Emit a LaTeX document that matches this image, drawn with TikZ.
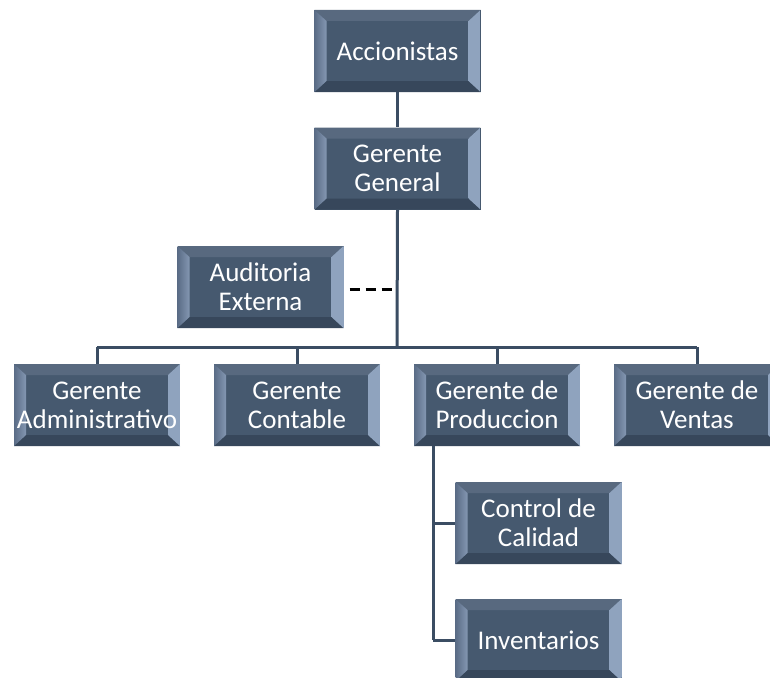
\documentclass[tikz,border=0pt]{standalone}
\usepackage{fontspec}
\setmainfont{Carlito}
\usetikzlibrary{calc}
\definecolor{face}{HTML}{46596F}
\definecolor{facetop}{HTML}{58697F}
\definecolor{facebot}{HTML}{37475B}
\definecolor{leftout}{HTML}{5A6C86}
\definecolor{leftin}{HTML}{8497B2}
\definecolor{rightend}{HTML}{8FA3BE}
\definecolor{rightmid}{HTML}{D6E3F2}
\definecolor{linecol}{HTML}{3B4D63}
\tikzset{
  bevelbox/.style={minimum width=166pt, minimum height=82pt, inner sep=0pt,
    fill=face, text=white, font=\fontsize{27}{29}\selectfont, align=center,
    path picture={
      \coordinate (pNW) at (path picture bounding box.north west);
      \coordinate (pNE) at (path picture bounding box.north east);
      \coordinate (pSW) at (path picture bounding box.south west);
      \coordinate (pSE) at (path picture bounding box.south east);
      \coordinate (iNW) at ($(pNW)+(12pt,-11pt)$);
      \coordinate (iNE) at ($(pNE)+(-12pt,-11pt)$);
      \coordinate (iSW) at ($(pSW)+(12pt,11pt)$);
      \coordinate (iSE) at ($(pSE)+(-12pt,11pt)$);
      \fill[facetop] (pNW) -- (pNE) -- (iNE) -- (iNW) -- cycle;
      \fill[facebot] (pSW) -- (pSE) -- (iSE) -- (iSW) -- cycle;
      \shade[left color=leftout, right color=leftin] (pNW) -- (iNW) -- (iSW) -- (pSW) -- cycle;
      \shade[top color=rightend, middle color=rightmid, bottom color=rightend] (pNE) -- (iNE) -- (iSE) -- (pSE) -- cycle;
    }},
  link/.style={draw=linecol, line width=3pt},
  dashlink/.style={draw=black, line width=3pt, dash pattern=on 10pt off 6pt}
}
\begin{document}
\begin{tikzpicture}[x=1pt, y=-1pt]
\useasboundingbox (0,0) rectangle (770,677);
\clip (0,0) rectangle (770,677);
\fill[white] (0,0) rectangle (770,677);

\coordinate (bus) at (397,347);
\coordinate (busL) at (97,347);
\coordinate (busR) at (697,347);
\coordinate (dashR) at (397,289);
\coordinate (prodV) at (433,446);
\coordinate (bCal) at (433,523);
\coordinate (bInv) at (433,640);

\node[bevelbox] (acc) at (397.5,51) {Accionistas};
\node[bevelbox] (gg) at (397.5,168.5) {Gerente\\General};
\node[bevelbox] (aud) at (260.5,287) {Auditoria\\Externa};
\node[bevelbox] (adm) at (97,405) {Gerente\\Administrativo};
\node[bevelbox] (con) at (297,405) {Gerente\\Contable};
\node[bevelbox] (pro) at (497,405) {Gerente de\\Produccion};
\node[bevelbox] (ven) at (697,405) {Gerente de\\Ventas};
\node[bevelbox] (cal) at (538.5,523) {Control de\\Calidad};
\node[bevelbox] (inv) at (538.5,640) {Inventarios};

\draw[link] (acc.south) -- (gg.north);
\draw[link] (gg.south) -- (bus);
\draw[link] (busL) -- (busR);
\draw[link] (busL) -- (adm.north);
\draw[link] (con.north |- bus) -- (con.north);
\draw[link] (pro.north |- bus) -- (pro.north);
\draw[link] (busR) -- (ven.north);
\draw[dashlink] ([xshift=6pt]aud.east |- dashR) -- (dashR);
\draw[link] (prodV) -- (bInv);
\draw[link] (bCal) -- (cal.west |- bCal);
\draw[link] (bInv) -- (inv.west |- bInv);
\end{tikzpicture}
\end{document}
